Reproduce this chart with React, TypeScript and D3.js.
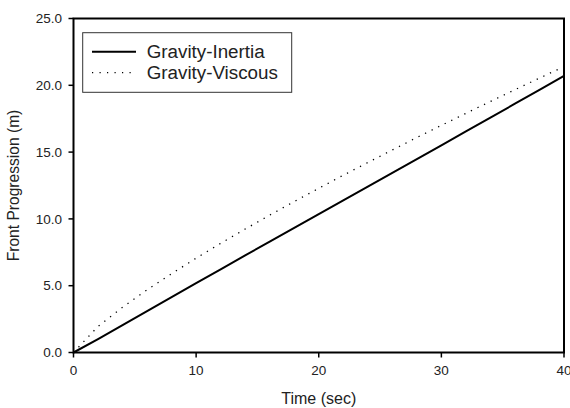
import React from "react";
import * as d3 from "d3";

const timeSec = [0, 2, 4, 6, 8, 10, 12, 14, 16, 18, 20, 22, 24, 26, 28, 30, 32, 34, 36, 38, 40];
const gravityInertia = [0, 1.0, 2.05, 3.1, 4.15, 5.2, 6.23, 7.27, 8.3, 9.33, 10.36, 11.39, 12.42, 13.45, 14.48, 15.51, 16.55, 17.58, 18.62, 19.66, 20.7];
const gravityViscous = [0, 1.95, 3.39, 4.69, 5.9, 7.06, 8.17, 9.24, 10.28, 11.3, 12.29, 13.27, 14.22, 15.16, 16.09, 17.0, 17.9, 18.79, 19.67, 20.54, 21.4];
const xTicks = [0, 10, 20, 30, 40];
const yTicks = [0, 5, 10, 15, 20, 25];
const seriesNames = ["Gravity-Inertia", "Gravity-Viscous"];

const W = 570, H = 408;
const L = 73.5, R = 564, T = 18.5, B = 352.5;
const FONT = "Arial, 'Liberation Sans', sans-serif";
const TXT = "#222";

export default function App() {
  const x = d3.scaleLinear().domain([0, 40]).range([L, R]);
  const y = d3.scaleLinear().domain([0, 25]).range([B, T]);
  const line = (vals: number[]) =>
    d3.line<number>().x((_, i) => x(timeSec[i])).y((v) => y(v))(vals) || "";

  return (
    <svg width={W} height={H} style={{ position: "absolute", left: 0, top: 0, background: "#fff" }}>
      <rect x={0} y={0} width={W} height={H} fill="#fff" />
      {/* data */}
      <path d={line(gravityInertia)} fill="none" stroke="#000" strokeWidth={2} />
      <path d={line(gravityViscous)} fill="none" stroke="#000" strokeWidth={1.3} strokeDasharray="1.3 6" />
      {/* frame */}
      <rect x={L} y={T} width={R - L} height={B - T} fill="none" stroke="#000" strokeWidth={2} />
      {/* y ticks */}
      {yTicks.map((t) => (
        <g key={"y" + t}>
          <line x1={L - 5} x2={L} y1={y(t)} y2={y(t)} stroke="#000" strokeWidth={1.5} />
          <text x={62} y={y(t)} dy="0.35em" textAnchor="end" fontFamily={FONT} fontSize={13.5} fill={TXT}>
            {d3.format(".1f")(t)}
          </text>
        </g>
      ))}
      {/* x ticks */}
      {xTicks.map((t) => (
        <g key={"x" + t}>
          <line x1={x(t)} x2={x(t)} y1={B} y2={B + 5} stroke="#000" strokeWidth={1.5} />
          <text x={x(t)} y={374.5} textAnchor="middle" fontFamily={FONT} fontSize={13.5} fill={TXT}>
            {t}
          </text>
        </g>
      ))}
      {/* axis titles */}
      <text x={(L + R) / 2} y={403.5} textAnchor="middle" fontFamily={FONT} fontSize={16} fill={TXT}>
        Time (sec)
      </text>
      <text
        transform={`translate(19, ${(T + B) / 2}) rotate(-90)`}
        textAnchor="middle"
        fontFamily={FONT}
        fontSize={15.6}
        fill={TXT}
      >
        Front Progression (m)
      </text>
      {/* legend */}
      <rect x={82.7} y={32.7} width={209} height={59.6} fill="#fff" stroke="#333" strokeWidth={1} />
      <line x1={92} x2={136} y1={51.7} y2={51.7} stroke="#000" strokeWidth={2} />
      <line x1={92} x2={136} y1={72.7} y2={72.7} stroke="#000" strokeWidth={1.2} strokeDasharray="1.2 6.3" />
      <text x={146.7} y={57.6} fontFamily={FONT} fontSize={18.8} fill={TXT}>{seriesNames[0]}</text>
      <text x={146.7} y={78.6} fontFamily={FONT} fontSize={18.8} fill={TXT}>{seriesNames[1]}</text>
    </svg>
  );
}
